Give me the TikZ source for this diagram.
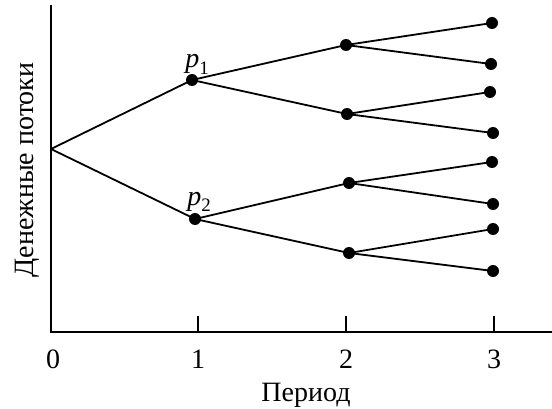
\documentclass[tikz,border=0pt]{standalone}
\usepackage{fontspec}
\setmainfont{Liberation Serif}
\newcommand{\plabel}[1]{\textit{p}\raisebox{-0.22em}{\fontsize{19}{20}\selectfont #1}}
\begin{document}
\begin{tikzpicture}[x=1pt,y=-1pt,
  dot/.style={circle,fill=black,inner sep=0pt,minimum size=12pt},
  branch/.style={line width=1.8pt},
  axis/.style={line width=2.3pt},
  lbl/.style={font=\fontsize{28}{32}\selectfont,inner sep=0pt},
  plbl/.style={font=\fontsize{28}{32}\selectfont,inner sep=0pt}]
\useasboundingbox (0,0) rectangle (552,409);
% axes
\coordinate (top) at (51,5);
\coordinate (orig) at (51,332);
\coordinate (xend) at (552,332);
\draw[axis] (top) -- (orig) -- (xend);
\foreach \x/\n in {198/1,346/2,494/3}{
  \coordinate (t\n) at (\x,316);
  \coordinate (b\n) at (\x,332);
  \draw[line width=1.5pt] (t\n) -- (b\n);
}
\begin{scope}
\clip (0,335) rectangle (552,368.5);
\node[lbl,anchor=base] (l0) at (53,368) {0};
\node[lbl,anchor=base] (l1) at (198,368) {1};
\node[lbl,anchor=base] (l2) at (346,368) {2};
\node[lbl,anchor=base] (l3) at (494,368) {3};
\end{scope}
\node[lbl,anchor=base] (xl) at (306,401) {Период};
\node[lbl,rotate=90,anchor=base] (yl) at (33,170) {Денежные потоки};
% tree
\coordinate (r) at (51,149);
\node[dot] (p1) at (192,80) {};
\node[dot] (p2) at (195,219) {};
\node[dot] (a) at (346,45) {};
\node[dot] (b) at (347,114) {};
\node[dot] (c) at (349,183) {};
\node[dot] (d) at (349,253) {};
\node[dot] (a1) at (492,23) {};
\node[dot] (a2) at (491,64) {};
\node[dot] (b1) at (490,92) {};
\node[dot] (b2) at (493,133) {};
\node[dot] (c1) at (492,162) {};
\node[dot] (c2) at (493,204) {};
\node[dot] (d1) at (493,229) {};
\node[dot] (d2) at (493,271) {};
\draw[branch] (r) -- (p1.center);
\draw[branch] (r) -- (p2.center);
\foreach \u/\v in {p1/a,p1/b,p2/c,p2/d,a/a1,a/a2,b/b1,b/b2,c/c1,c/c2,d/d1,d/d2}
  \draw[branch] (\u.center) -- (\v.center);
\node[plbl,anchor=base] (q1) at (197,68) {\plabel{1}};
\node[plbl,anchor=base] (q2) at (199,205) {\plabel{2}};
\end{tikzpicture}
\end{document}
